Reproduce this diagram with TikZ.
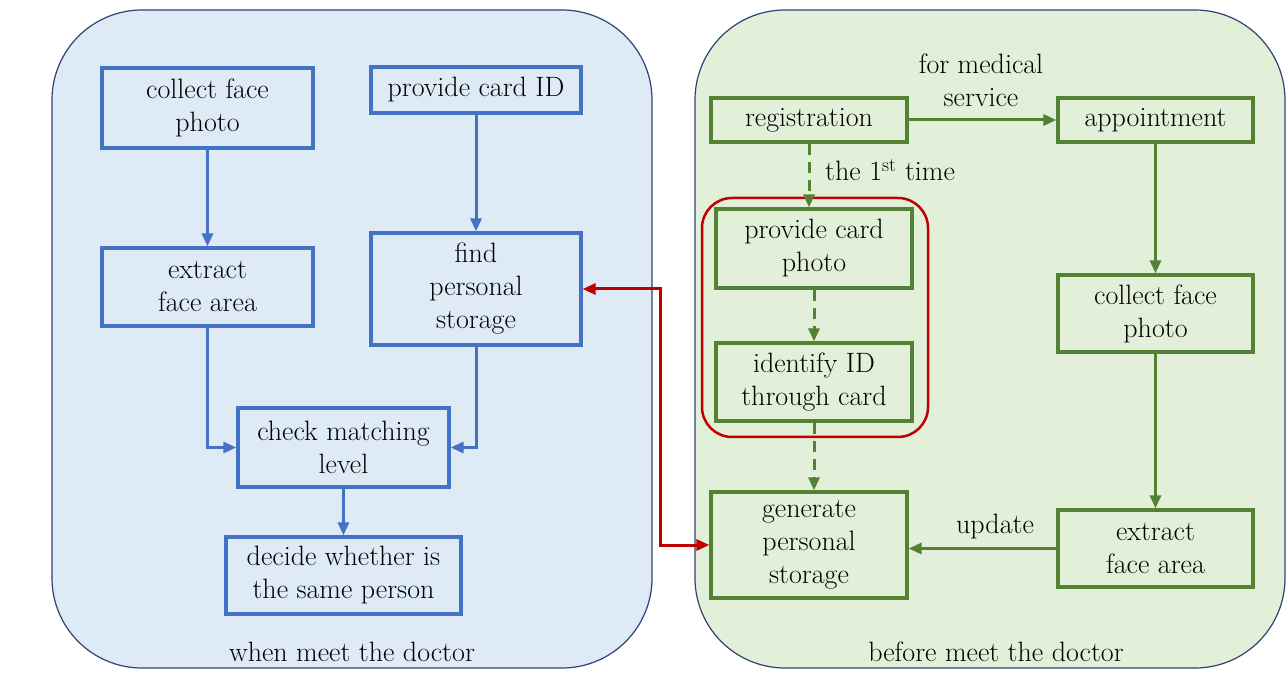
\documentclass[tikz,border=0pt]{standalone}
\usetikzlibrary{arrows.meta}
\definecolor{bluebox}{HTML}{4472C4}
\definecolor{greenbox}{HTML}{548235}
\definecolor{bluefill}{HTML}{DEEBF7}
\definecolor{greenfill}{HTML}{E2F0D9}
\definecolor{panelline}{HTML}{2F4373}
\definecolor{redline}{HTML}{C00000}
\begin{document}
\begin{tikzpicture}[x=1pt,y=-1pt,
  every node/.style={font=\fontsize{28}{33}\selectfont, align=center, inner sep=0pt, text=black},
  panel/.style={draw=panelline, line width=1.2pt, rounded corners=90pt},
  bbox/.style={draw=bluebox, line width=3.2pt},
  gbox/.style={draw=greenbox, line width=3.2pt},
  barrow/.style={draw=bluebox, line width=3pt, -{Triangle[length=13pt,width=11pt]}},
  garrow/.style={draw=greenbox, line width=3pt, -{Triangle[length=13pt,width=11pt]}},
  gdash/.style={garrow, dash pattern=on 11pt off 7pt},
  rarrow/.style={draw=redline, line width=3pt, {Triangle[length=13pt,width=11pt]}-{Triangle[length=13pt,width=11pt]}},
]
\useasboundingbox (0,0) rectangle (1288,684);
\fill[white] (0,0) rectangle (1288,684);
% panels
\draw[panel, fill=bluefill] (52,10) rectangle (652,668);
\draw[panel, fill=greenfill] (695,10) rectangle (1285,668);
% left boxes
\node[bbox, minimum width=211, minimum height=80] (cf) at (207.5,108) {collect face\\photo};
\node[bbox, minimum width=210, minimum height=46] (pid) at (476,90) {provide card ID};
\node[bbox, minimum width=211, minimum height=78] (ef) at (207.5,287) {extract\\face area};
\node[bbox, minimum width=210, minimum height=112] (fps) at (476,289) {find\\personal\\storage};
\node[bbox, minimum width=211, minimum height=79] (chk) at (343.5,447.5) {check matching\\level};
\node[bbox, minimum width=235, minimum height=77] (dec) at (343.5,575.5) {decide whether is\\the same person};
\node (lleft) at (352,652) {when meet the doctor};
% right boxes
\node[gbox, minimum width=196, minimum height=44] (reg) at (809,120) {registration};
\node[gbox, minimum width=195, minimum height=44] (app) at (1155.5,120) {appointment};
\node[gbox, minimum width=196, minimum height=79] (pcp) at (814,248.5) {provide card\\photo};
\node[gbox, minimum width=196, minimum height=78] (iid) at (814,382) {identify ID\\through card};
\node[gbox, minimum width=196, minimum height=106] (gen) at (809,545) {generate\\personal\\storage};
\node[gbox, minimum width=195, minimum height=77] (cf2) at (1155.5,313.5) {collect face\\photo};
\node[gbox, minimum width=195, minimum height=77] (ef2) at (1155.5,548.5) {extract\\face area};
\node (lright) at (996,652) {before meet the doctor};
% red grouping
\draw[draw=redline, line width=2.5pt, rounded corners=30pt] (702,198) rectangle (928,437);
% labels
\node (lmed) at (981,80) {for medical\\service};
\node[anchor=west] (l1st) at (825,170) {the 1\textsuperscript{st} time};
\node (lupd) at (995,527) {update};
% left arrows
\draw[barrow] (cf) -- (ef);
\draw[barrow] (pid) -- (fps);
\draw[barrow] (ef.south) |- (chk.west);
\draw[barrow] (fps.south) |- (chk.east);
\draw[barrow] (chk) -- (dec);
% right arrows
\draw[garrow] (reg) -- (app);
\draw[gdash] (reg.south) -- (reg.south |- pcp.north);
\draw[gdash] (pcp) -- (iid);
\draw[gdash] (iid.south) -- (iid.south |- gen.north);
\draw[garrow] (app) -- (cf2);
\draw[garrow] (cf2) -- (ef2);
\draw[garrow] (ef2.west) -- (ef2.west -| gen.east);
% red link
\coordinate (rmid) at (660,420);
\draw[rarrow] (fps.east) -| (rmid) |- (gen.west);
\end{tikzpicture}
\end{document}
